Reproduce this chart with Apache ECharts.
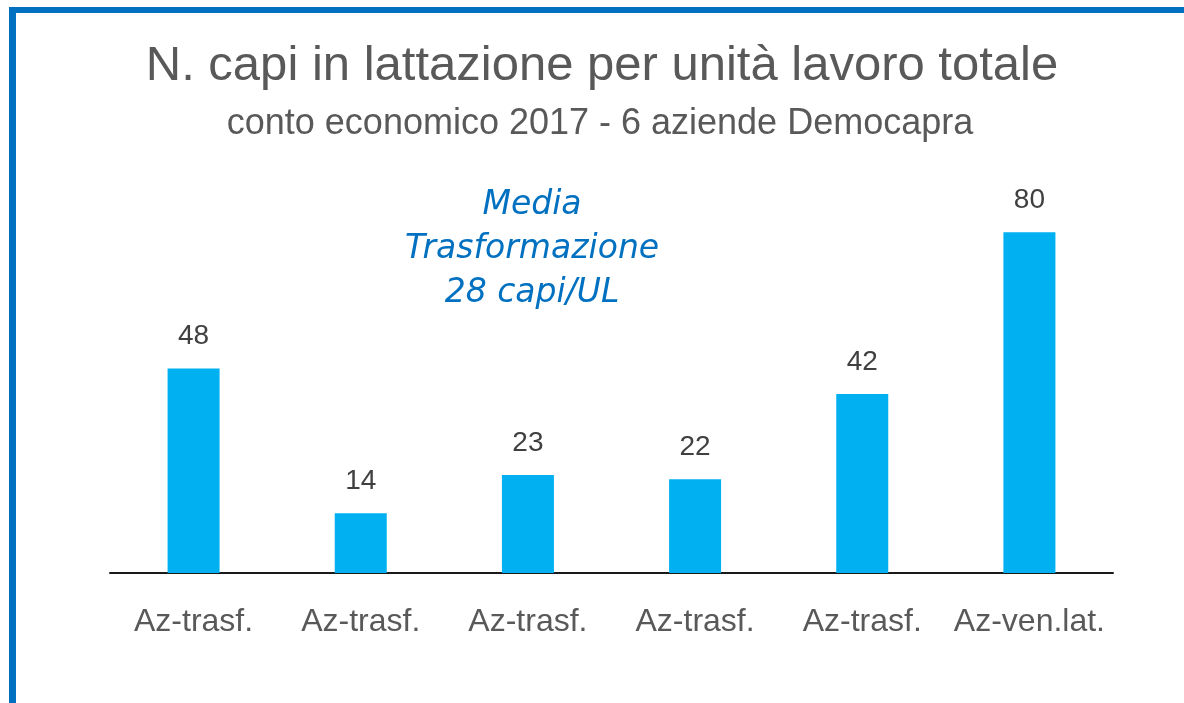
<!DOCTYPE html>
<html>
<head>
<meta charset="utf-8">
<script src="https://cdn.jsdelivr.net/npm/echarts@6/dist/echarts.min.js"></script>
<style>
html,body{margin:0;padding:0;background:#fff;}
#chart{width:1184px;height:703px;}
</style>
</head>
<body>
<div id="chart"></div>
<script>
const categories = ['Az-trasf.', 'Az-trasf.', 'Az-trasf.', 'Az-trasf.', 'Az-trasf.', 'Az-ven.lat.'];
const values = [48, 14, 23, 22, 42, 80];
const titleText = 'N. capi in lattazione per unità lavoro totale';
const subtitleText = 'conto economico 2017 - 6 aziende Democapra';
const noteLines = ['Media', 'Trasformazione', '28 capi/UL'];

const chart = echarts.init(document.getElementById('chart'));
const option = {
  backgroundColor: '#ffffff',
  animation: false,
  grid: { left: 110, right: 71, top: 147, bottom: 130 },
  xAxis: {
    type: 'category',
    data: categories,
    axisLine: { lineStyle: { color: '#1a1a1a', width: 2 } },
    axisTick: { show: false },
    axisLabel: { interval: 0, color: '#595959', fontSize: 32, fontFamily: 'Liberation Sans', margin: 33 }
  },
  yAxis: { type: 'value', min: 0, max: 100, show: false, splitLine: { show: false } },
  series: [{
    type: 'bar',
    data: values,
    barWidth: 52,
    itemStyle: { color: '#00B0F0' },
    label: { show: true, position: 'top', distance: 18, color: '#404040', fontSize: 28, fontFamily: 'Liberation Sans' }
  }],
  graphic: [
    { type: 'rect', shape: { x: 9, y: 7, width: 1175, height: 6 }, style: { fill: '#0070C0' } },
    { type: 'rect', shape: { x: 9, y: 7, width: 7, height: 696 }, style: { fill: '#0070C0' } },
    { type: 'text', x: 602, y: 42, style: { text: titleText, fill: '#595959', font: '49px "Liberation Sans"', align: 'center' } },
    { type: 'text', x: 600, y: 106, style: { text: subtitleText, fill: '#595959', font: '36px "Liberation Sans"', align: 'center' } },
    { type: 'text', x: 532, y: 183, style: { text: noteLines.join('\n'), fill: '#0070C0', font: 'italic 33px "DejaVu Sans"', lineHeight: 44, align: 'center' } }
  ]
};
chart.setOption(option);
</script>
</body>
</html>
